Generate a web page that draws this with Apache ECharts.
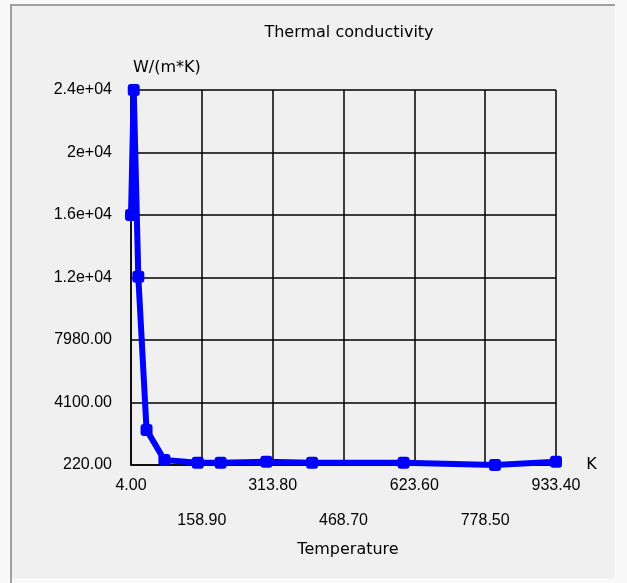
<!DOCTYPE html>
<html>
<head>
<meta charset="utf-8">
<script src="https://cdn.jsdelivr.net/npm/echarts@6/dist/echarts.min.js"></script>
<style>
html,body{margin:0;padding:0;background:#f9f9f9;}
#chart{width:627px;height:583px;}
</style>
</head>
<body>
<div id="chart"></div>
<script>
// ---- data ----
const temperatureK = [4, 10, 20, 38, 77, 150, 200, 300, 400, 600, 800, 933.4];
const conductivity = [15740, 23500, 11900, 2400, 530, 360, 360, 420, 360, 360, 220, 420];

const xTickLabels = ['4.00', '158.90', '313.80', '468.70', '623.60', '778.50', '933.40'];
const yTickLabels = ['220.00', '4100.00', '7980.00', '1.2e+04', '1.6e+04', '2e+04', '2.4e+04'];

const X_MIN = 4, X_STEP = 154.9;
const Y_MIN = 220, Y_STEP = 3880;

// axis runs in tick units so that every tick lands on the labels above
const plotData = temperatureK.map((t, i) => [(t - X_MIN) / X_STEP, (conductivity[i] - Y_MIN) / Y_STEP]);

const FONT = 'Liberation Sans, Arial, sans-serif';
const WFONT = 'DejaVu Sans, sans-serif';
const chart = echarts.init(document.getElementById('chart'), null, {renderer: 'canvas'});

chart.setOption({
  backgroundColor: '#f9f9f9',
  animation: false,
  graphic: [
    {type: 'rect', shape: {x: 10, y: 4, width: 605, height: 575}, style: {fill: '#f0f0f0', stroke: '#fbfbfb', lineWidth: 1}, z: -10},
    {type: 'line', shape: {x1: 10, y1: 5, x2: 615, y2: 5}, style: {stroke: '#a0a0a0', lineWidth: 2}, z: -9},
    {type: 'line', shape: {x1: 11, y1: 4, x2: 11, y2: 583}, style: {stroke: '#a0a0a0', lineWidth: 2}, z: -9}
  ],
  title: [
    {text: 'Thermal conductivity', left: 344, top: 20, textAlign: 'center',
     textStyle: {fontFamily: WFONT, fontSize: 16, fontWeight: 'normal', color: '#000'}},
    {text: 'Temperature', left: 343, top: 537, textAlign: 'center',
     textStyle: {fontFamily: WFONT, fontSize: 16, fontWeight: 'normal', color: '#000'}}
  ],
  grid: {left: 131, right: 71, top: 90, bottom: 118, containLabel: false},
  xAxis: {
    type: 'value', min: 0, max: xTickLabels.length - 1, interval: 1,
    name: 'K', nameLocation: 'end', nameGap: 15,
    nameTextStyle: {fontFamily: WFONT, fontSize: 16, color: '#000', verticalAlign: 'middle', padding: [0, 0, 14, 0]},
    axisLine: {show: true, onZero: false, lineStyle: {color: '#000', width: 1.5}},
    axisTick: {show: false},
    splitLine: {show: true, lineStyle: {color: '#000', width: 1.5}},
    axisLabel: {
      fontFamily: FONT, fontSize: 16, color: '#000', margin: 3, lineHeight: 35,
      formatter: v => { const i = Math.round(v); return i % 2 === 0 ? xTickLabels[i] : '\n' + xTickLabels[i]; }
    }
  },
  yAxis: {
    type: 'value', min: 0, max: yTickLabels.length - 1, interval: 1,
    name: 'W/(m*K)', nameLocation: 'end', nameGap: 14,
    nameTextStyle: {fontFamily: WFONT, fontSize: 16, color: '#000', align: 'left', padding: [0, 0, 0, 2]},
    axisLine: {show: true, lineStyle: {color: '#000', width: 1.5}},
    axisTick: {show: false},
    splitLine: {show: true, lineStyle: {color: '#000', width: 1.5}},
    axisLabel: {
      fontFamily: FONT, fontSize: 16, color: '#000', margin: 19, verticalAlign: 'middle', padding: [0, 0, 13, 0],
      formatter: v => yTickLabels[Math.round(v)]
    }
  },
  series: [{
    type: 'line',
    data: plotData,
    clip: false,
    color: '#0000ff',
    lineStyle: {color: '#0000ff', width: 6},
    itemStyle: {color: '#0000ff'},
    symbol: 'roundRect',
    symbolSize: 12,
    z: 5
  }]
});
</script>
</body>
</html>
